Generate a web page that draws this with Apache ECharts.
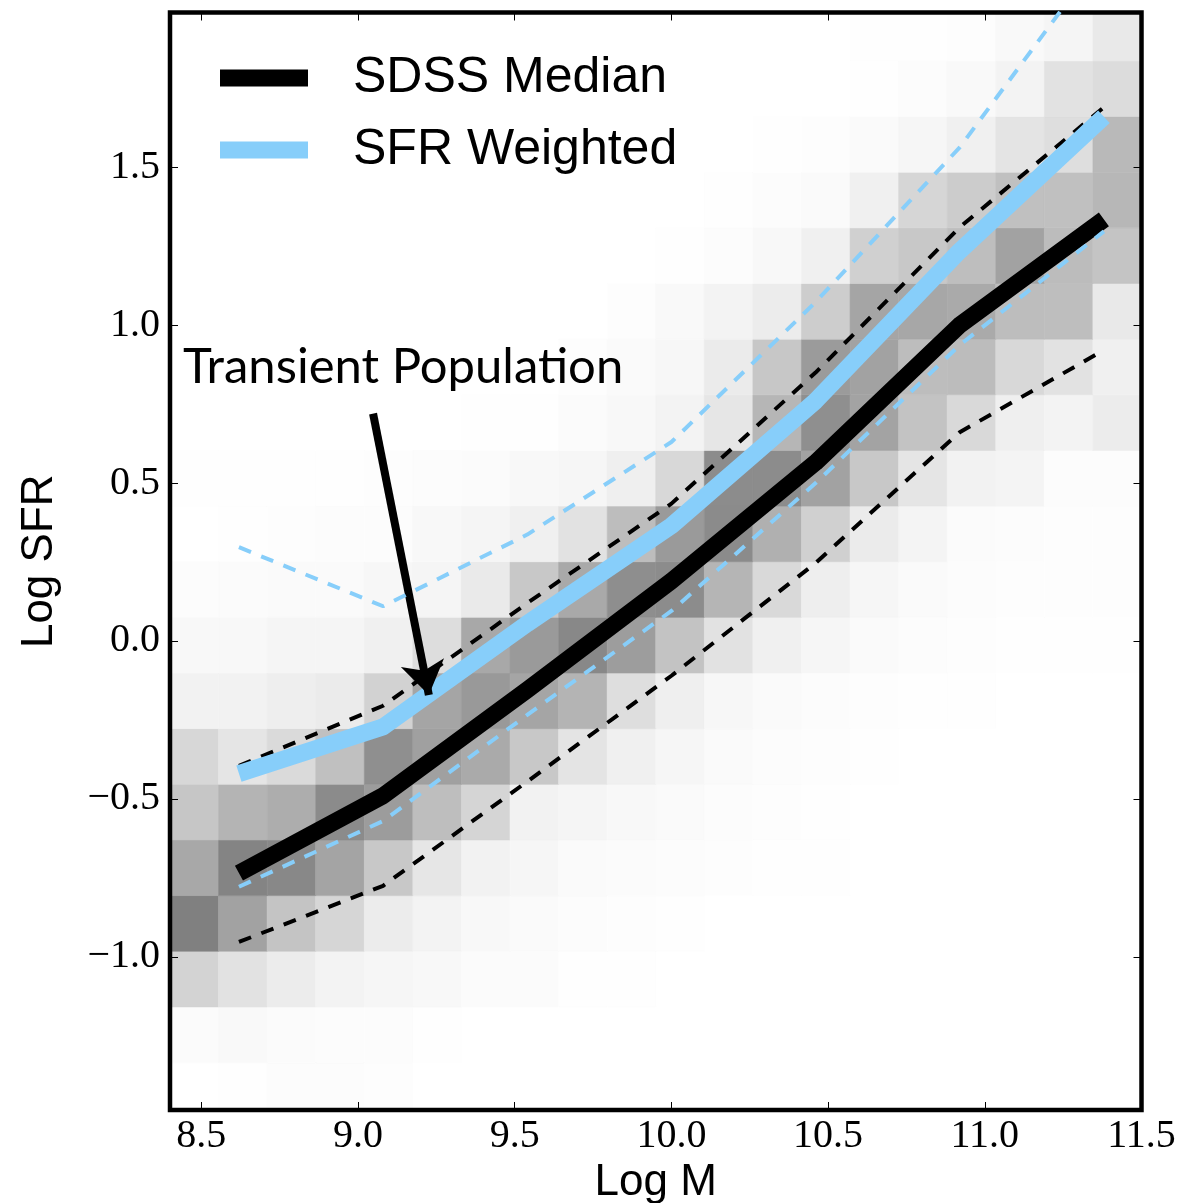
<!DOCTYPE html>
<html>
<head>
<meta charset="utf-8">
<script src="https://cdn.jsdelivr.net/npm/echarts@6/dist/echarts.min.js"></script>
<style>html,body{margin:0;padding:0;background:#fff}#chart{width:1194px;height:1203px}</style>
</head>
<body>
<div id="chart"></div>
<script>
// ---- 2D histogram of SDSS galaxies (bins) ----
const massBinStart = 8.4;
const massBinWidth = 0.155;
const sfrBinStart = -1.511;
const sfrBinHeight = 0.1762;
// density (darkness) per bin, rows from lowest SFR bin to highest, columns from lowest mass bin
const density = [
  [0,1,3,3,2,0,0,0,0,0,0,0,0,0,0,0,0,0,0,0],
  [4,6,4,3,3,1,0,0,0,0,0,0,0,0,0,0,0,0,0,0],
  [44,29,19,12,9,7,4,4,1,1,0,0,0,0,0,0,0,0,0,0],
  [127,93,59,41,19,12,7,5,3,2,1,0,0,0,0,0,0,0,0,0],
  [87,123,119,91,55,25,13,9,5,4,3,2,1,1,0,0,0,0,0,0],
  [57,75,82,116,99,65,42,13,10,7,5,3,2,1,0,0,0,0,0,0],
  [40,26,37,63,112,95,85,55,27,15,9,5,3,2,1,0,0,0,0,0],
  [13,13,17,20,45,90,102,90,75,33,16,8,5,3,2,1,1,0,0,0],
  [7,7,10,10,15,34,87,101,119,98,60,29,15,9,5,3,2,1,1,1],
  [3,4,5,5,8,10,21,55,86,113,115,74,38,17,9,5,3,2,2,2],
  [0,1,2,3,3,7,10,15,29,66,101,116,79,47,20,11,4,3,2,2],
  [1,1,1,1,2,3,4,7,9,16,39,115,115,93,55,26,13,11,3,3],
  [0,0,0,0,0,0,1,1,4,7,12,25,73,112,92,60,38,16,12,19],
  [0,0,0,0,0,0,0,0,2,5,8,20,56,100,93,66,67,39,29,15],
  [0,0,0,0,0,0,0,0,0,2,6,12,19,50,90,88,85,66,65,22],
  [0,0,0,0,0,0,0,0,0,0,1,3,7,15,47,55,65,93,67,59],
  [0,0,0,0,0,0,0,0,0,0,0,1,3,5,15,41,51,63,63,72],
  [0,0,0,0,0,0,0,0,0,0,0,0,1,2,5,9,15,27,33,70],
  [0,0,0,0,0,0,0,0,0,0,0,0,0,0,1,3,6,12,29,35],
  [0,0,0,0,0,0,0,0,0,0,0,0,0,0,1,1,2,6,10,22]
];

// ---- curves ----
const massPoints  = [8.62, 9.08, 9.54, 10.00, 10.46, 10.92, 11.38];
const sdssMedian  = [-0.735, -0.49, -0.155, 0.19, 0.565, 1.00, 1.335];
const sdssUpper   = [-0.395, -0.205, 0.12, 0.435, 0.85, 1.31, 1.69];
const sdssLower   = [-0.953, -0.775, -0.445, -0.11, 0.247, 0.661, 0.921];
const sfrWeighted = [-0.42, -0.272, 0.055, 0.365, 0.76, 1.235, 1.66];
const sfrUpper    = [0.297, 0.11, 0.337, 0.63, 1.073, 1.563, 2.18];
const sfrLower    = [-0.778, -0.57, -0.234, 0.095, 0.50, 0.937, 1.297];

// ---- axes ----
const xRange = [8.4, 11.5];
const yRange = [-1.485, 1.99];
const xTicks = [8.5, 9.0, 9.5, 10.0, 10.5, 11.0, 11.5];
const yTicks = [-1.0, -0.5, 0.0, 0.5, 1.0, 1.5];

// ---- annotation ----
const annotationText = 'Transient Population';
const arrowFrom = [9.048, 0.72];
const arrowTo = [9.226, -0.171];

const BLUE = '#87cefa';

const cells = [];
density.forEach((row, r) => row.forEach((v, c) => {
  if (v > 0) cells.push([massBinStart + (c + 0.5) * massBinWidth, sfrBinStart + (r + 0.5) * sfrBinHeight, v]);
}));
const pairs = arr => massPoints.map((m, i) => [m, arr[i]]);
const fmt = v => v.toFixed(1).replace('-', '\u2212');

const chart = echarts.init(document.getElementById('chart'), null, {renderer: 'canvas'});

const tickCommon = {show: true, inside: true, length: 8, lineStyle: {color: '#000', width: 1}};
const noLine = {show: false, onZero: false};

chart.setOption({
  animation: false,
  backgroundColor: '#fff',
  grid: {left: 170, top: 12.5, width: 971.5, height: 1097.5, show: true,
         borderColor: '#000', borderWidth: 4.5, backgroundColor: 'transparent',
         containLabel: false, outerBoundsMode: 'none'},
  xAxis: [{
    type: 'value', min: xRange[0], max: xRange[1], position: 'bottom',
    axisLine: noLine, splitLine: {show: false},
    axisTick: Object.assign({customValues: xTicks}, tickCommon),
    axisLabel: {customValues: xTicks, formatter: fmt, showMinLabel: true, showMaxLabel: true,
                fontFamily: 'Liberation Serif', fontSize: 40, color: '#000', margin: 6},
    name: 'Log M', nameLocation: 'middle', nameGap: 41,
    nameTextStyle: {fontFamily: 'Liberation Sans', fontSize: 44, color: '#000'}
  }, {
    type: 'value', min: xRange[0], max: xRange[1], position: 'top',
    axisLine: noLine, splitLine: {show: false},
    axisTick: Object.assign({customValues: xTicks}, tickCommon),
    axisLabel: {show: false}
  }],
  yAxis: [{
    type: 'value', min: yRange[0], max: yRange[1], position: 'left',
    axisLine: noLine, splitLine: {show: false},
    axisTick: Object.assign({customValues: yTicks}, tickCommon),
    axisLabel: {customValues: yTicks, formatter: fmt, showMinLabel: true, showMaxLabel: true,
                fontFamily: 'Liberation Serif', fontSize: 40, color: '#000', margin: 10},
    name: 'Log SFR', nameLocation: 'middle', nameGap: 108, nameRotate: 90,
    nameTextStyle: {fontFamily: 'Liberation Sans', fontSize: 44, color: '#000'}
  }, {
    type: 'value', min: yRange[0], max: yRange[1], position: 'right',
    axisLine: noLine, splitLine: {show: false},
    axisTick: Object.assign({customValues: yTicks}, tickCommon),
    axisLabel: {show: false}
  }],
  visualMap: {
    type: 'continuous', show: false, seriesIndex: 0, dimension: 2,
    min: 0, max: 255, inRange: {color: ['#ffffff', '#000000']}
  },
  legend: {
    left: 215, top: 48, orient: 'vertical', itemWidth: 88, itemHeight: 17, itemGap: 22,
    selectedMode: false, icon: 'rect', itemStyle: {borderWidth: 0},
    textStyle: {fontFamily: 'Liberation Sans', fontSize: 50, color: '#000', padding: [0, 0, 0, 40]},
    data: ['SDSS Median', 'SFR Weighted']
  },
  graphic: [{
    type: 'text', left: 183, top: 343, z: 100,
    style: {text: annotationText, font: '49px Lato', fill: '#000'}
  }],
  series: [{
    name: 'histogram', type: 'custom', z: -1, data: cells, encode: {x: 0, y: 1},
    renderItem: function (params, api) {
      const xc = api.value(0), yc = api.value(1);
      const p0 = api.coord([xc - massBinWidth / 2, yc + sfrBinHeight / 2]);
      const p1 = api.coord([xc + massBinWidth / 2, yc - sfrBinHeight / 2]);
      const rect = echarts.graphic.clipRectByRect(
        {x: p0[0], y: p0[1], width: p1[0] - p0[0], height: p1[1] - p0[1]},
        {x: params.coordSys.x, y: params.coordSys.y, width: params.coordSys.width, height: params.coordSys.height});
      if (!rect) return null;
      const col = api.visual('color');
      return {type: 'rect', shape: rect, style: {fill: col, stroke: col, lineWidth: 0.6}};
    }
  }, {
    name: 'SDSS Median', type: 'line', z: 3, data: pairs(sdssMedian), showSymbol: false, symbol: 'none',
    color: '#000', itemStyle: {color: '#000'},
    lineStyle: {color: '#000', width: 17, join: 'round'}
  }, {
    name: 'SDSS upper', type: 'line', z: 3, data: pairs(sdssUpper), showSymbol: false, symbol: 'none',
    lineStyle: {color: '#000', width: 4, type: [13, 11]}
  }, {
    name: 'SDSS lower', type: 'line', z: 3, data: pairs(sdssLower), showSymbol: false, symbol: 'none',
    lineStyle: {color: '#000', width: 4, type: [13, 11]}
  }, {
    name: 'SFR Weighted', type: 'line', z: 4, data: pairs(sfrWeighted), showSymbol: false, symbol: 'none',
    color: BLUE, itemStyle: {color: BLUE},
    lineStyle: {color: BLUE, width: 17, join: 'round'}
  }, {
    name: 'SFR upper', type: 'line', z: 5, data: pairs(sfrUpper), showSymbol: false, symbol: 'none',
    lineStyle: {color: BLUE, width: 4, type: [13, 11]}
  }, {
    name: 'SFR lower', type: 'line', z: 5, data: pairs(sfrLower), showSymbol: false, symbol: 'none',
    lineStyle: {color: BLUE, width: 4, type: [13, 11]}
  }, {
    name: 'annotation', type: 'line', z: 10, data: [arrowFrom, arrowTo], showSymbol: false, symbol: 'none',
    lineStyle: {opacity: 0}, silent: true,
    markLine: {
      silent: true, symbol: ['none', 'arrow'], symbolSize: 33,
      label: {show: false},
      lineStyle: {color: '#000', width: 8, type: 'solid', opacity: 1},
      emphasis: {disabled: true},
      data: [[{coord: arrowFrom}, {coord: arrowTo}]]
    }
  }]
});
</script>
</body>
</html>
